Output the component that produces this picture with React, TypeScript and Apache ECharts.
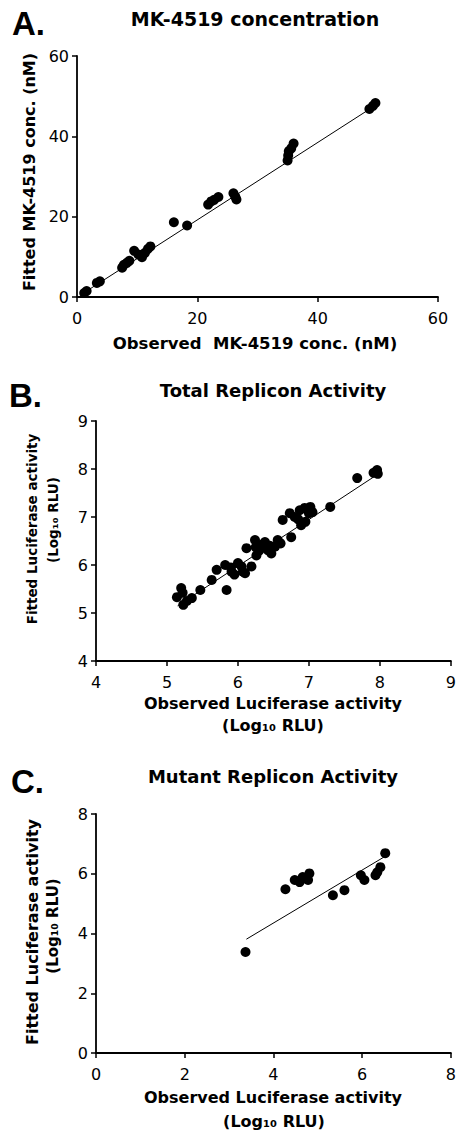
import React, { useEffect, useRef } from "react";
import * as echarts from "echarts";

// Panel A: MK-4519 concentration (nM)
const obsA = [1.2, 1.6, 3.3, 3.8, 7.5, 7.8, 8.3, 8.7, 9.5, 10.2, 10.8, 11.3, 11.8, 12.2, 16.1, 18.3, 21.8, 22.3, 22.8, 23.5, 26.0, 26.3, 26.5, 35.0, 35.1, 35.2, 35.6, 36.0, 48.6, 49.2, 49.6];
const fitA = [1.0, 1.5, 3.5, 3.9, 7.3, 8.0, 8.5, 9.0, 11.5, 10.6, 9.9, 11.0, 12.0, 12.6, 18.6, 17.8, 23.0, 23.8, 24.2, 24.9, 25.8, 25.0, 24.3, 34.0, 35.2, 36.3, 37.0, 38.2, 46.8, 47.6, 48.3];
const lineObsA = [1.0, 49.8];
const lineFitA = [0.9, 47.9];

// Panel B: Total replicon activity (Log10 RLU)
const obsB = [5.14, 5.2, 5.23, 5.28, 5.22, 5.35, 5.47, 5.63, 5.7, 5.84, 5.82, 5.9, 5.91, 5.95, 6.0, 6.05, 6.07, 6.1, 6.19, 6.12, 6.24, 6.25, 6.26, 6.3, 6.33, 6.38, 6.42, 6.45, 6.47, 6.52, 6.56, 6.6, 6.63, 6.73, 6.75, 6.8, 6.85, 6.87, 6.89, 6.94, 6.95, 7.0, 7.02, 7.05, 7.3, 7.68, 7.91, 7.95, 7.96, 7.97];
const fitB = [5.33, 5.52, 5.17, 5.25, 5.42, 5.31, 5.48, 5.69, 5.9, 5.48, 6.0, 5.95, 5.86, 5.8, 6.04, 5.97, 5.86, 5.83, 5.97, 6.35, 6.52, 6.37, 6.2, 6.3, 6.42, 6.48, 6.31, 6.4, 6.24, 6.38, 6.52, 6.45, 6.94, 7.08, 6.58, 7.0, 6.95, 7.14, 6.83, 7.19, 6.9, 7.08, 7.21, 7.1, 7.21, 7.81, 7.92, 7.95, 7.98, 7.9];
const lineObsB = [5.15, 8.0];
const lineFitB = [5.15, 7.92];

// Panel C: Mutant replicon activity (Log10 RLU)
const obsC = [3.37, 4.27, 4.48, 4.59, 4.66, 4.78, 4.81, 5.34, 5.6, 5.97, 6.05, 6.3, 6.34, 6.41, 6.52];
const fitC = [3.38, 5.48, 5.79, 5.72, 5.89, 5.79, 6.01, 5.28, 5.45, 5.95, 5.79, 5.95, 6.05, 6.22, 6.69];
const lineObsC = [3.39, 6.56];
const lineFitC = [3.81, 6.62];

const titles = ["MK-4519 concentration", "Total Replicon Activity", "Mutant Replicon Activity"];
const panelLetters = ["A.", "B.", "C."];
const xTitles = ["Observed  MK-4519 conc. (nM)", "Observed Luciferase activity", "Observed Luciferase activity"];
const yTitles = ["Fitted MK-4519 conc. (nM)", "Fitted Luciferase activity", "Fitted Luciferase activity"];
const unitLine = "(Log₁₀ RLU)";

const zip = (a: number[], b: number[]) => a.map((v, i) => [v, b[i]]);

const FONT = "DejaVu Sans";

function txt(x: number, y: number, text: string, font: string, rotation = 0, align = "center") {
  return {
    type: "text",
    x,
    y,
    rotation,
    silent: true,
    style: {
      text,
      font,
      fill: "#000",
      align,
      verticalAlign: "middle",
      textAlign: align,
      textVerticalAlign: "middle",
    },
  };
}

export default function App() {
  const ref = useRef<HTMLDivElement>(null);
  useEffect(() => {
    if (!ref.current) return;
    const chart = echarts.init(ref.current, undefined, { renderer: "svg" });
    const axisCommon = {
      axisLine: { show: true, onZero: false, lineStyle: { color: "#000", width: 1.8 } },
      axisTick: { show: true, inside: false, length: 5, lineStyle: { color: "#000", width: 1.5 } },
      splitLine: { show: false },
      axisLabel: { color: "#000", fontFamily: FONT, fontSize: 16 },
    };
    const xAx = (gi: number, min: number, max: number, interval: number) => ({
      ...axisCommon,
      type: "value",
      gridIndex: gi,
      min,
      max,
      interval,
      axisLabel: { ...axisCommon.axisLabel, margin: 13 },
    });
    const yAx = (gi: number, min: number, max: number, interval: number) => ({
      ...axisCommon,
      type: "value",
      gridIndex: gi,
      min,
      max,
      interval,
      axisLabel: { ...axisCommon.axisLabel, margin: 8 },
    });
    const scat = (i: number, o: number[], f: number[]) => ({
      type: "scatter",
      xAxisIndex: i,
      yAxisIndex: i,
      data: zip(o, f),
      symbol: "circle",
      symbolSize: 10,
      itemStyle: { color: "#000", opacity: 1 },
      z: 3,
    });
    const fitLine = (i: number, o: number[], f: number[]) => ({
      type: "line",
      xAxisIndex: i,
      yAxisIndex: i,
      data: zip(o, f),
      showSymbol: false,
      symbol: "none",
      lineStyle: { color: "#000", width: 1 },
      z: 2,
    });
    const bold = (s: number, fam = FONT) => `bold ${s}px "${fam}"`;
    chart.setOption({
      animation: false,
      backgroundColor: "#fff",
      grid: [
        { left: 77, top: 56, width: 361, height: 241 },
        { left: 96, top: 421, width: 359, height: 240 },
        { left: 96, top: 814, width: 359, height: 239 },
      ],
      xAxis: [xAx(0, 0, 60, 20), xAx(1, 4, 9, 1), xAx(2, 0, 8, 2)],
      yAxis: [yAx(0, 0, 60, 20), yAx(1, 4, 9, 1), yAx(2, 0, 8, 2)],
      series: [
        fitLine(0, lineObsA, lineFitA),
        scat(0, obsA, fitA),
        fitLine(1, lineObsB, lineFitB),
        scat(1, obsB, fitB),
        fitLine(2, lineObsC, lineFitC),
        scat(2, obsC, fitC),
      ],
      graphic: [
        txt(12, 23, panelLetters[0], bold(33, "Liberation Sans"), 0, "left"),
        txt(9, 395, panelLetters[1], bold(33, "Liberation Sans"), 0, "left"),
        txt(11, 781, panelLetters[2], bold(33, "Liberation Sans"), 0, "left"),
        txt(255, 19, titles[0], bold(19)),
        txt(273, 390, titles[1], bold(18)),
        txt(273, 776, titles[2], bold(18)),
        txt(255, 343, xTitles[0], bold(16.5)),
        txt(273, 703, xTitles[1], bold(16)),
        txt(273, 725, unitLine, bold(16)),
        txt(273, 1097, xTitles[2], bold(16)),
        txt(274, 1121, unitLine, bold(16)),
        txt(29, 172, yTitles[0], bold(16), Math.PI / 2),
        txt(32, 529, yTitles[1], bold(13.5), Math.PI / 2),
        txt(53, 520, unitLine, bold(13.5), Math.PI / 2),
        txt(32, 932, yTitles[2], bold(16), Math.PI / 2),
        txt(53, 926, unitLine, bold(15), Math.PI / 2),
      ],
    });
    return () => chart.dispose();
  }, []);
  return <div ref={ref} style={{ position: "absolute", left: 0, top: 0, width: 459, height: 1132 }} />;
}
